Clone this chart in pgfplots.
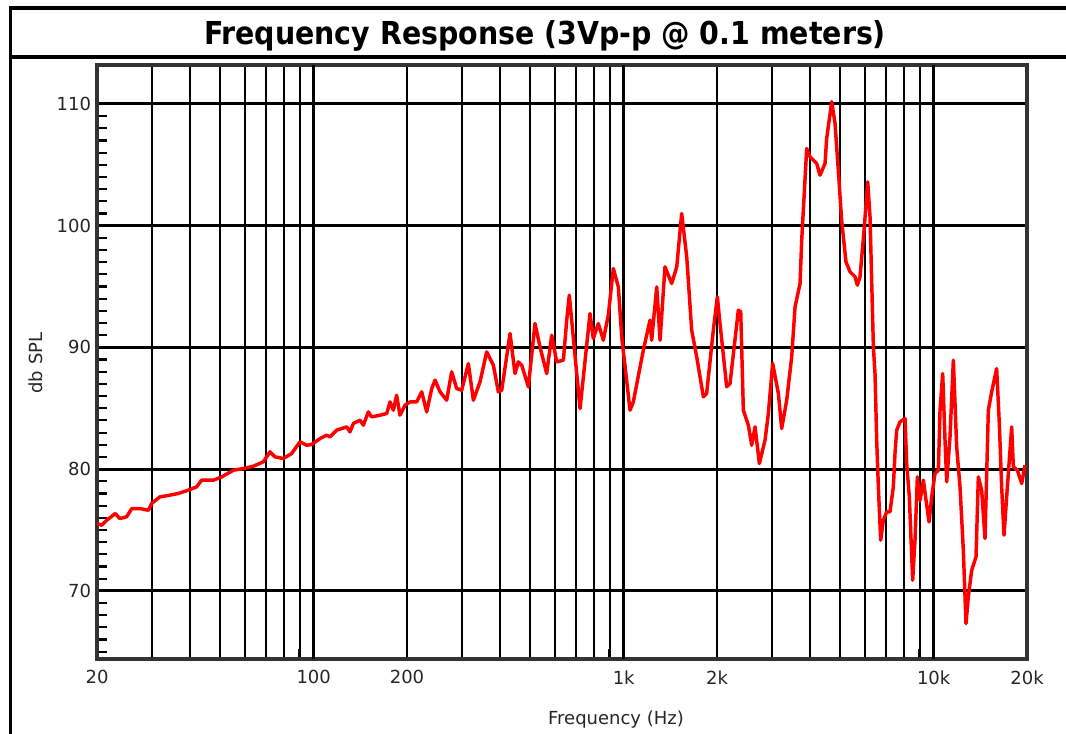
\documentclass[border=0pt]{standalone}
\usepackage{fontspec}
\setmainfont{DejaVu Sans}
\newfontfamily\titlefont{DejaVu Sans Condensed}
\usepackage{pgfplots}
\pgfplotsset{compat=1.18}
\begin{document}
\begin{tikzpicture}
\path[use as bounding box] (0,0) rectangle (799.5pt,550.5pt);
\begin{axis}[
  at={(72.75pt,56.25pt)}, anchor=south west,
  scale only axis, width=697.5pt, height=445.5pt,
  xmode=log, log basis x=10,
  xmin=20, xmax=20000, ymin=64.4, ymax=113.2,
  xtick={20,100,200,1000,2000,10000,20000},
  xticklabels={20,100,200,1k,2k,10k,20k},
  minor xtick={30,40,50,60,70,80,90,200,300,400,500,600,700,800,900,2000,3000,4000,5000,6000,7000,8000,9000},
  xminorgrids=true,
  minor grid style={black, line width=1.5pt},
  extra x ticks={100,1000,10000}, extra x tick labels={},
  extra x tick style={grid=major, major grid style={black, line width=2.3pt}},
  ytick={70,80,90,100,110}, yticklabels={70,80,90,100,110},
  ymajorgrids=true, major grid style={black, line width=2.3pt},
  minor ytick={65,...,109},
  minor tick length=7.5pt, major tick length=0pt,
  tick pos=left, tick align=inside,
  minor tick style={black, line width=1.6pt},
  axis line style={line width=2.3pt, black!80},
  ticklabel style={font=\fontsize{13.5pt}{14pt}\selectfont, black!85},
  xticklabel style={yshift=-5pt},
  yticklabel style={xshift=-1pt},
]
\addplot[red, line width=2.6pt, line join=round] table {
20 75.53
20.7 75.39
21.5 75.80
22.9 76.35
23.7 75.94
24.9 76.08
25.9 76.76
27.5 76.76
29.3 76.62
30.0 77.17
31.9 77.72
34.4 77.86
36.6 78.00
39.4 78.27
41.9 78.54
43.5 79.09
47.5 79.09
50.5 79.36
55.1 79.91
59.3 80.05
63.9 80.24
68.8 80.60
72.3 81.42
75.0 81.01
79.8 80.87
84.9 81.28
90.3 82.24
94.9 81.96
98.5 82.02
104.8 82.51
110.1 82.79
112.9 82.65
118.6 83.20
127.8 83.47
130.9 83.06
134.3 83.75
141.1 84.02
144.6 83.61
150.1 84.70
153.8 84.29
163.7 84.43
172.0 84.57
176.3 85.52
180.7 84.84
185.2 86.07
189.8 84.43
197.1 85.25
204.5 85.52
214.9 85.52
223.0 86.35
231.5 84.70
240.3 86.62
246.3 87.31
255.6 86.35
268.5 85.66
278.7 87.99
289.2 86.62
300.2 86.48
315.4 88.67
327.4 85.66
344.0 87.17
361.4 89.63
379.8 88.54
394.2 86.35
404.1 86.48
429.9 91.14
446.1 87.85
457.3 88.81
468.8 88.54
492.5 86.76
517.5 91.96
537.0 90.04
564.4 87.85
585.8 91.00
607.9 88.81
638.9 88.95
654.9 92.24
667.6 94.29
723.2 84.97
778.6 92.78
798.0 90.73
828.2 91.96
859.5 90.59
892.0 92.64
925.8 96.48
961.0 94.97
985.4 90.86
1048 84.84
1074 85.52
1157 89.77
1216 92.24
1231 90.59
1278 94.97
1310 90.59
1359 96.62
1428 95.25
1483 96.62
1538 101.0
1597 97.44
1657 91.41
1720 89.22
1807 85.94
1852 86.21
1946 91.41
2005 94.15
2045 91.96
2149 86.76
2203 87.03
2343 93.06
2385 92.92
2432 84.84
2524 83.61
2588 81.96
2653 83.47
2739 80.46
2857 82.38
2929 84.57
3024 88.68
3155 86.21
3233 83.33
3356 85.66
3483 89.22
3571 93.33
3706 95.25
3752 98.81
3894 106.34
3991 105.66
4193 105.11
4298 104.15
4461 105.11
4516 107.16
4688 110.18
4805 108.40
4923 104.56
5047 100.45
5212 97.03
5372 96.21
5575 95.80
5672 95.11
5785 95.80
5962 99.63
6125 103.60
6232 100.73
6389 90.04
6467 87.85
6548 82.38
6630 78.54
6745 74.16
6880 75.80
7052 76.49
7229 76.49
7410 78.54
7502 81.28
7596 83.20
7786 83.88
8082 84.15
8181 80.46
8345 77.72
8554 70.87
8704 74.16
8857 79.36
9034 77.44
9261 79.09
9446 77.44
9659 75.66
9852 77.72
10099 79.64
10352 79.91
10481 84.84
10690 87.85
10877 82.37
11013 78.95
11288 82.65
11571 88.95
11861 81.83
12158 78.54
12462 73.34
12711 67.31
12934 69.50
13258 71.69
13692 72.79
13932 79.36
14281 78.27
14639 74.30
15006 84.84
15381 86.35
15963 88.26
16282 83.74
16567 78.54
16858 74.57
17195 77.72
17846 83.47
18069 80.18
18614 79.91
19223 78.81
19703 80.32
};
\end{axis}
% frame and title box
\draw[line width=2.3pt] (7.9pt,0pt) -- (7.9pt,544.5pt) -- (799.5pt,544.5pt);
\draw[line width=2.3pt] (7.9pt,507.75pt) -- (799.5pt,507.75pt);
\node[anchor=base, inner sep=0pt] at (408.75pt,516.75pt) {\titlefont\bfseries\fontsize{23.7pt}{26pt}\selectfont Frequency Response (3Vp-p @ 0.1 meters)};
\node[anchor=center, inner sep=0pt, text=black!85] at (462pt,11pt) {\fontsize{13.5pt}{14pt}\selectfont Frequency (Hz)};
\node[anchor=center, inner sep=0pt, rotate=90, text=black!85] at (27pt,278.25pt) {\fontsize{13.5pt}{14pt}\selectfont db SPL};
\end{tikzpicture}
\end{document}
